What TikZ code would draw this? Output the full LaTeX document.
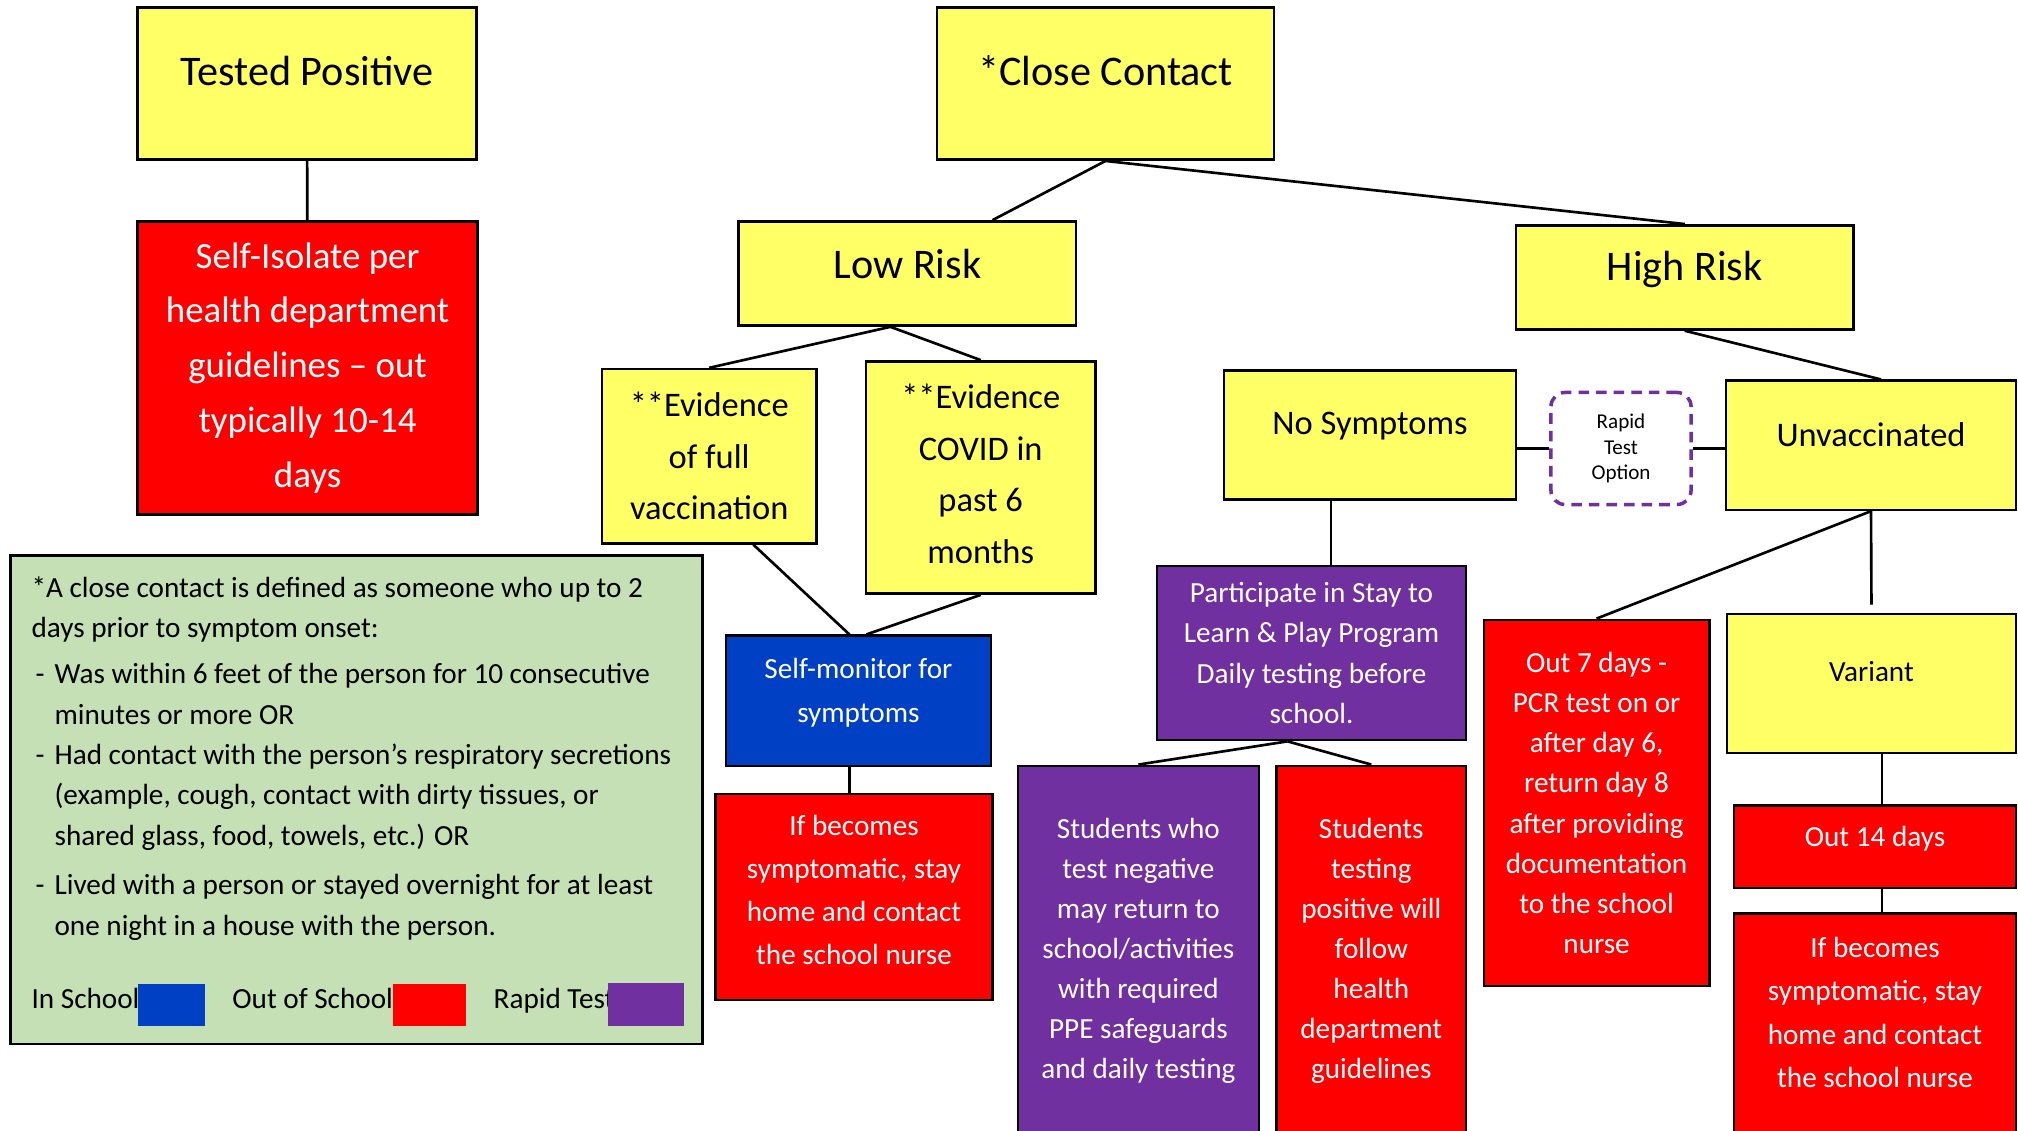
\documentclass[tikz,border=0pt]{standalone}
\usepackage{fontspec}
\setmainfont{Carlito}
\usepackage{tikz}
\usetikzlibrary{positioning}

\definecolor{boxyellow}{RGB}{255,255,102}
\definecolor{boxred}{RGB}{255,0,0}
\definecolor{boxblue}{RGB}{0,64,196}
\definecolor{boxpurple}{RGB}{112,48,160}
\definecolor{legendgreen}{RGB}{197,224,180}

\begin{document}
\begin{tikzpicture}[x=0.01cm,y=-0.01cm]
	\tikzset{box/.style = {draw,line width=0.75pt,inner sep=0pt,align=center}}
	\tikzset{ybox/.style = {box,fill=boxyellow}}
	\tikzset{rbox/.style = {box,fill=boxred,text=white}}
	\tikzset{bbox/.style = {box,fill=boxblue,text=white}}
	\tikzset{pbox/.style = {box,fill=boxpurple,text=white}}
	\tikzset{txt/.style 2 args = {font=\fontsize{#1}{#2}\selectfont}}
	\tikzset{link/.style = {line width=0.75pt}}
	\tikzset{swatch/.style = {inner sep=0pt}}

	\useasboundingbox (0,0) rectangle (2018,1131);

	% tested positive
	\node[ybox,txt={12}{14},minimum width=3.39cm,minimum height=1.52cm,text depth=7.3pt] (tested) at (307,83.6) {Tested Positive};
	\node[rbox,txt={10.5}{15.6},minimum width=3.40cm,minimum height=2.93cm] (isolate) at (307.6,368) {Self-Isolate per\\health department\\guidelines -- out\\typically 10-14\\days};
	\draw[link] (tested) -- (isolate);

	% close contact
	\node[ybox,txt={12}{14},minimum width=3.37cm,minimum height=1.52cm,text depth=7.3pt] (close) at (1105.5,83.6) {*Close Contact};
	\node[ybox,txt={12}{14},minimum width=3.37cm,minimum height=1.04cm,text depth=5.5pt] (low) at (907.4,273.5) {Low Risk};
	\node[ybox,txt={12}{14},minimum width=3.37cm,minimum height=1.04cm,text depth=6.3pt] (high) at (1684.7,277.4) {High Risk};
	\draw[link] (close.south) -- ([xshift=0.85cm]low.north);
	\draw[link] (close.south) -- (high.north);

	% low risk
	\node[ybox,txt={9.8}{14.7},minimum width=2.14cm,minimum height=1.74cm] (vacc) at (709.2,456.2) {**Evidence\\of full\\vaccination};
	\node[ybox,txt={9.8}{14.7},minimum width=2.29cm,minimum height=2.32cm,text depth=2.2pt] (covid) at (980.7,477.5) {**Evidence\\COVID in\\past 6\\months};
	\draw[link] ([xshift=-0.17cm]low.south) -- (vacc.north);
	\draw[link] ([xshift=-0.17cm]low.south) -- (covid.north);

	\node[bbox,txt={8.3}{12.5},minimum width=2.65cm,minimum height=1.30cm,text depth=6.2pt] (monitor) at (858.4,700.8) {Self-monitor for\\symptoms};
	\draw[link] ([xshift=0.44cm]vacc.south) -- ([xshift=-0.09cm]monitor.north);
	\draw[link] (covid.south) -- ([xshift=0.08cm]monitor.north);

	\node[rbox,txt={8.3}{12.3},minimum width=2.77cm,minimum height=2.06cm,text depth=4pt] (ifbecL) at (854,897) {If becomes\\symptomatic, stay\\home and contact\\the school nurse};
	\draw[link] ([xshift=-0.09cm]monitor.south) -- ([xshift=-0.09cm]monitor.south |- ifbecL.north);

	% legend
	\node[draw,line width=0.75pt,fill=legendgreen,minimum width=6.92cm,minimum height=4.88cm,inner sep=0pt] (legend) at (356.5,799.9) {};
	\node[anchor=north west,align=left,inner sep=0pt,txt={8.3}{11.5}] (legtext) at (30.9,576) {*A close contact is defined as someone who up to 2\\
		days prior to symptom onset:\\[1.5pt]
		\makebox[0.23cm][l]{\hspace{0.04cm}-}Was within 6 feet of the person for 10 consecutive\\
		\hspace*{0.23cm}minutes or more OR\\
		\makebox[0.23cm][l]{\hspace{0.04cm}-}Had contact with the person’s respiratory secretions\\
		\hspace*{0.23cm}(example, cough, contact with dirty tissues, or\\
		\hspace*{0.23cm}shared glass, food, towels, etc.) OR\\[2.5pt]
		\makebox[0.23cm][l]{\hspace{0.04cm}-}Lived with a person or stayed overnight for at least\\
		\hspace*{0.23cm}one night in a house with the person.};
	\node[anchor=base west,inner sep=0pt,txt={8.3}{11.5}] (legin) at (30.9,1008) {In School};
	\node[anchor=base west,inner sep=0pt,txt={8.3}{11.5}] (legout) at (231.7,1008) {Out of School};
	\node[anchor=base west,inner sep=0pt,txt={8.3}{11.5}] (legrapid) at (493,1008) {Rapid Test};
	\node[swatch,fill=boxblue,minimum width=0.67cm,minimum height=0.41cm] (swin) at (171.2,1005) {};
	\node[swatch,fill=boxred,minimum width=0.73cm,minimum height=0.41cm] (swout) at (429.2,1005) {};
	\node[swatch,fill=boxpurple,minimum width=0.75cm,minimum height=0.43cm] (swrapid) at (646,1004.4) {};

	% high risk
	\node[ybox,txt={9.8}{12},minimum width=2.92cm,minimum height=1.29cm,text depth=6.6pt] (nosym) at (1370,435) {No Symptoms};
	\node[draw=boxpurple,fill=white,line width=1pt,dash pattern=on 3pt off 2pt,rounded corners=4pt,align=center,inner sep=0pt,txt={6}{7.3},minimum width=1.40cm,minimum height=1.12cm] (rapid) at (1621,448.5) {Rapid\\Test\\Option};
	\node[ybox,txt={9.8}{12},minimum width=2.90cm,minimum height=1.29cm,text depth=5.9pt] (unvacc) at (1871,445.3) {Unvaccinated};
	\draw[link] (high.south) -- ([xshift=0.1cm]unvacc.north);
	\draw[link] (rapid.west) -- (rapid.west -| nosym.east);
	\draw[link] (rapid.east) -- (rapid.east -| unvacc.west);

	% stay to learn
	\node[pbox,txt={8.3}{11.5},minimum width=3.09cm,minimum height=1.74cm] (partic) at (1311.5,653) {Participate in Stay to\\Learn \& Play Program\\Daily testing before\\school.};
	\draw[link] ([xshift=-0.39cm]nosym.south) -- ([xshift=-0.39cm]nosym.south |- partic.north);

	\node[pbox,txt={8.3}{11.4},minimum width=2.41cm,minimum height=3.70cm] (studneg) at (1138.4,951) {Students who\\test negative\\may return to\\school/activities\\with required\\PPE safeguards\\and daily testing};
	\node[rbox,txt={8.3}{11.4},minimum width=1.89cm,minimum height=3.70cm] (studpos) at (1371.3,951) {Students\\testing\\positive will\\follow\\health\\department\\guidelines};
	\draw[link] ([xshift=-0.24cm]partic.south) -- (studneg.north);
	\draw[link] ([xshift=-0.24cm]partic.south) -- (studpos.north);

	% unvaccinated
	\node[rbox,txt={8.3}{11.4},minimum width=2.25cm,minimum height=3.66cm] (out7) at (1596.6,803) {Out 7 days -\\PCR test on or\\after day 6,\\return day 8\\after providing\\documentation\\to the school\\nurse};
	\draw[link] (unvacc.south) -- (out7.north);

	\node[ybox,txt={8.3}{11.5},minimum width=2.89cm,minimum height=1.39cm,text depth=6.6pt] (variant) at (1871.5,683.4) {Variant};
	\draw[link,shorten >=0.08cm] (unvacc.south) -- (variant.north);

	\node[rbox,txt={8.3}{11.5},minimum width=2.82cm,minimum height=0.82cm,text depth=5.8pt] (out14) at (1875,846.8) {Out 14 days};
	\draw[link] ([xshift=0.07cm]out14.north) -- ([xshift=0.07cm]out14.north |- variant.south);

	\node[rbox,txt={8.3}{12.3},minimum width=2.82cm,minimum height=2.3cm,text depth=9.4pt] (ifbecR) at (1875,1028.8) {If becomes\\symptomatic, stay\\home and contact\\the school nurse};
	\draw[link] ([xshift=0.07cm]out14.south) -- ([xshift=0.07cm]out14.south |- ifbecR.north);
\end{tikzpicture}
\end{document}
